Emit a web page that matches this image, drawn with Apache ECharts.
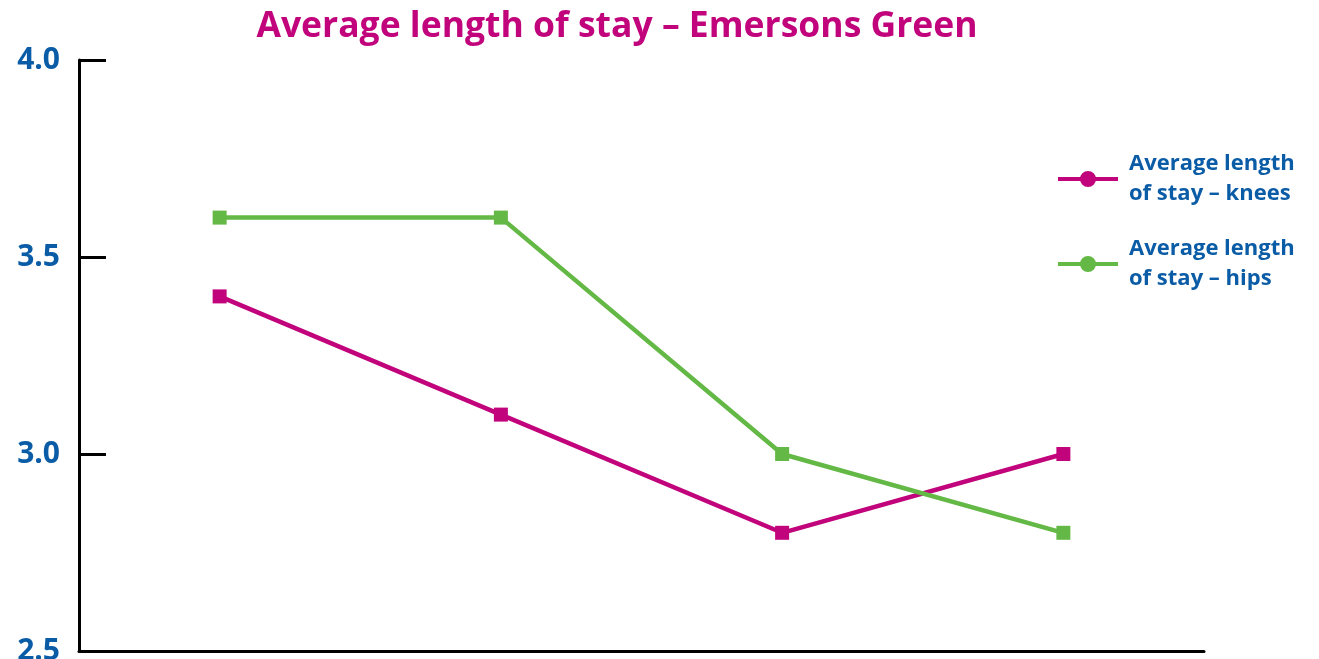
<!DOCTYPE html>
<html>
<head>
<meta charset="utf-8">
<script src="https://cdn.jsdelivr.net/npm/echarts@6/dist/echarts.min.js"></script>
<style>
  html, body { margin: 0; padding: 0; background: #fff; }
  #chart { width: 1319px; height: 659px; }
</style>
</head>
<body>
<div id="chart"></div>
<script>
// Periods along the x axis (unlabelled on the chart)
const periods = ['1', '2', '3', '4'];
// Average length of stay in days
const kneesStay = [3.4, 3.1, 2.8, 3.0];
const hipsStay = [3.6, 3.6, 3.0, 2.8];
const kneesName = 'Average length of stay – knees';
const hipsName = 'Average length of stay – hips';
const yTicks = [2.5, 3.0, 3.5, 4.0];

const MAGENTA = '#c1047c';
const GREEN = '#64b946';
const BLUE = '#0b5ca6';
const FONT = '"Open Sans", "Noto Sans", sans-serif';

// Legend marker: a short line with a dot in the middle (60 x 16 box)
const LINE_DOT_ICON = 'path://M0,6 H23 V10 H0 Z M37,6 H60 V10 H37 Z ' +
  'M22,8 A8,8 0 1,1 38,8 A8,8 0 1,1 22,8 Z';

const chart = echarts.init(document.getElementById('chart'));
chart.setOption({
  animation: false,
  backgroundColor: '#ffffff',
  title: {
    text: 'Average length of stay – Emersons Green',
    left: 612,
    textAlign: 'center',
    top: 4,
    textStyle: { color: MAGENTA, fontFamily: FONT, fontWeight: 'bold', fontSize: 35.5 }
  },
  legend: {
    orient: 'vertical',
    left: 1058,
    top: 149,
    padding: 0,
    itemWidth: 60,
    itemHeight: 16,
    itemGap: 25,
    data: [
      { name: kneesName, icon: LINE_DOT_ICON },
      { name: hipsName, icon: LINE_DOT_ICON }
    ],
    formatter: function (name) {
      return name.replace('length of', 'length\nof');
    },
    textStyle: {
      color: BLUE, fontFamily: FONT, fontWeight: 'bold', fontSize: 22, lineHeight: 30,
      padding: [0, 0, 0, 6]
    }
  },
  grid: { left: 79, right: 115, top: 60, bottom: 8, containLabel: false, outerBoundsMode: 'none' },
  xAxis: {
    type: 'category',
    data: periods,
    boundaryGap: true,
    axisLine: { lineStyle: { color: '#000', width: 3 } },
    axisTick: { inside: true, length: 11, lineStyle: { color: '#000', width: 3 } },
    axisLabel: { show: false },
    splitLine: { show: false }
  },
  yAxis: {
    type: 'value',
    min: yTicks[0],
    max: yTicks[yTicks.length - 1],
    interval: 0.5,
    axisLine: { show: true, lineStyle: { color: '#000', width: 3 } },
    axisTick: { show: true, inside: true, length: 27, lineStyle: { color: '#000', width: 3 } },
    axisLabel: {
      margin: 19,
      color: BLUE,
      fontFamily: FONT,
      fontWeight: 'bold',
      fontSize: 30,
      formatter: v => v.toFixed(1)
    },
    splitLine: { show: false }
  },
  series: [
    {
      name: kneesName,
      type: 'line',
      data: kneesStay,
      color: MAGENTA,
      symbol: 'rect',
      symbolSize: 14,
      lineStyle: { width: 4.5, color: MAGENTA },
      itemStyle: { color: MAGENTA }
    },
    {
      name: hipsName,
      type: 'line',
      data: hipsStay,
      color: GREEN,
      symbol: 'rect',
      symbolSize: 14,
      lineStyle: { width: 4.5, color: GREEN },
      itemStyle: { color: GREEN }
    }
  ]
});
</script>
</body>
</html>
